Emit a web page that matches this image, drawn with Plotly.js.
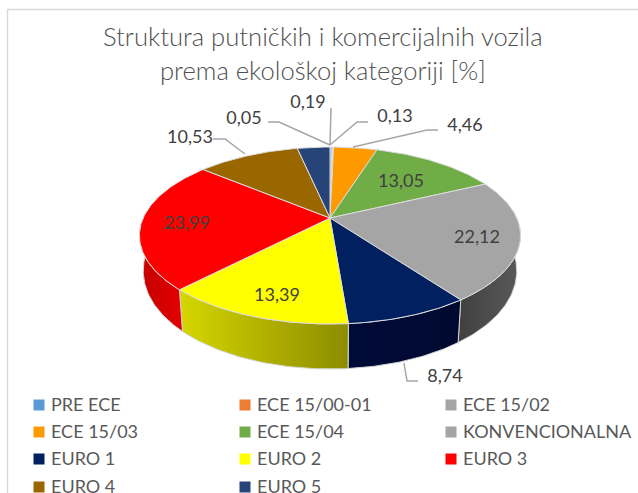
<!DOCTYPE html>
<html><head><meta charset="utf-8">
<script src="https://cdn.plot.ly/plotly-3.0.1.min.js"></script>
<style>html,body{margin:0;padding:0;background:#fff;overflow:hidden}</style>
</head><body><div id="chart" style="width:638px;height:493px"></div>
<script>
// Data
var categories = ["PRE ECE","ECE 15/00-01","ECE 15/02","ECE 15/03","ECE 15/04","KONVENCIONALNA","EURO 1","EURO 2","EURO 3","EURO 4","EURO 5"];
var values = [0.19,0.13,0.05,4.46,13.05,22.12,8.74,13.39,23.99,10.53,3.35];
var sliceColors = ["#5b9bd5","#ed7d31","#a5a5a5","#ff9900","#70ad47","#a5a5a5","#002060","#ffff00","#ff0000","#996600","#264478"];
var titleLines = ["Struktura putničkih i komercijalnih vozila","prema ekološkoj kategoriji [%]"];

// Wall shading per category (only the front-facing slices have a visible wall)
var wallShades = {5:["#404040","#5a5a5a"],6:["#000a38","#000a30"],7:["#d6d600","#8c8c00"],8:["#c40000","#e40000"]};

// Label placement (pixel anchors), by category index; EURO 5 has no label in the reference
var labelAnchors = {0:[308,102],1:[395,116],2:[244,118],3:[465,125],4:[401,181],5:[477,237],6:[445,376],7:[277,295],8:[187,223],9:[190,137]};
var leaders = [
  [[330,145],[331,108]],
  [[330,145],[357,122],[368,122]],
  [[330,145],[279,122],[268,122]],
  [[353,147],[427,130],[438,130]],
  [[245,154],[225,139],[213,139]],
  [[404,363],[407,381],[418,381]]
];

// Perspective disc geometry
var CX=330, CY=218, A=186.8, B=85, K=0.198;
function discTop(theta){
  var u=Math.sin(theta), v=Math.cos(theta), d=1+K*v;
  return [CX+A*u/d, CY-B*v/d];
}
function discBottom(theta){
  var p=discTop(theta), v=Math.cos(theta);
  return [CX+(p[0]-CX)*0.98, p[1]+33-12*v];
}
function arc(fn,a0,a1){
  var n=Math.max(2,Math.ceil(Math.abs(a1-a0)/0.015)), pts=[];
  for(var i=0;i<=n;i++) pts.push(fn(a0+(a1-a0)*i/n));
  return pts;
}
var total=values.reduce(function(a,b){return a+b;},0);
var traces=[], cum=0, WALL0=85*Math.PI/180, WALL1=275*Math.PI/180;
var bounds=values.map(function(v){var s=cum/total*2*Math.PI; cum+=v; return [s,cum/total*2*Math.PI];});

// Walls
values.forEach(function(v,i){
  var a0=Math.max(bounds[i][0],WALL0), a1=Math.min(bounds[i][1],WALL1);
  if(a1<=a0||!wallShades[i]) return;
  var pts=arc(discTop,a0,a1).concat(arc(discBottom,a1,a0)); pts.push(pts[0]);
  traces.push({type:"scatter",mode:"lines",x:pts.map(function(p){return p[0];}),y:pts.map(function(p){return p[1];}),
    fill:"toself",line:{color:"#d4d4d4",width:1},
    fillgradient:{type:"horizontal",colorscale:[[0,wallShades[i][0]],[1,wallShades[i][1]]]},
    hoverinfo:"skip",showlegend:false});
});
// Top slices
values.forEach(function(v,i){
  var pts=[[CX,CY]].concat(arc(discTop,bounds[i][0],bounds[i][1])); pts.push([CX,CY]);
  traces.push({type:"scatter",mode:"lines",x:pts.map(function(p){return p[0];}),y:pts.map(function(p){return p[1];}),
    fill:"toself",fillcolor:sliceColors[i],line:{color:"#dcdcdc",width:1},
    name:categories[i],hoverinfo:"name",showlegend:false});
});
// Leader lines
leaders.forEach(function(l){
  traces.push({type:"scatter",mode:"lines",x:l.map(function(p){return p[0];}),y:l.map(function(p){return p[1];}),
    line:{color:"#a6a6a6",width:1.5},hoverinfo:"skip",showlegend:false});
});
// Value labels
var idx=Object.keys(labelAnchors).map(Number);
traces.push({type:"scatter",mode:"text",
  x:idx.map(function(i){return labelAnchors[i][0];}),
  y:idx.map(function(i){return labelAnchors[i][1]+1;}),
  text:idx.map(function(i){return String(values[i].toFixed(2)).replace(".",",");}),
  textposition:"middle center",textfont:{family:"Lato",size:18,color:"#404040"},
  hoverinfo:"skip",showlegend:false});
// Legend grid: three columns, four rows
var legX=[39,245,451], legY=[405,432,459,487];
categories.forEach(function(c,i){
  var lx=legX[i%3], ly=legY[Math.floor(i/3)];
  traces.push({type:"scatter",mode:"markers",x:[lx],y:[ly],
    marker:{symbol:"square",size:11,color:sliceColors[i]},hoverinfo:"skip",showlegend:false});
  traces.push({type:"scatter",mode:"text",x:[lx+12],y:[ly+1],text:[c],textposition:"middle right",
    textfont:{family:"Lato",size:18,color:"#595959"},hoverinfo:"skip",showlegend:false});
});

var layout={
  width:638,height:493,margin:{l:0,r:0,t:0,b:0},paper_bgcolor:"#fff",plot_bgcolor:"#fff",showlegend:false,
  xaxis:{range:[0,638],visible:false,fixedrange:true},
  yaxis:{range:[493,0],visible:false,fixedrange:true},
  shapes:[{type:"rect",xref:"x",yref:"y",x0:7.5,y0:9.5,x1:720,y1:600,line:{color:"#d9d9d9",width:1.5},layer:"below"}],
  annotations:titleLines.map(function(t,i){return {text:t,xref:"x",yref:"y",x:323,y:[36,70][i],showarrow:false,
    xanchor:"center",yanchor:"middle",font:{family:"Lato",size:25.6,weight:300,color:"#505050"}};})
};
Plotly.newPlot("chart",traces,layout,{displayModeBar:false,staticPlot:true});
</script></body></html>
